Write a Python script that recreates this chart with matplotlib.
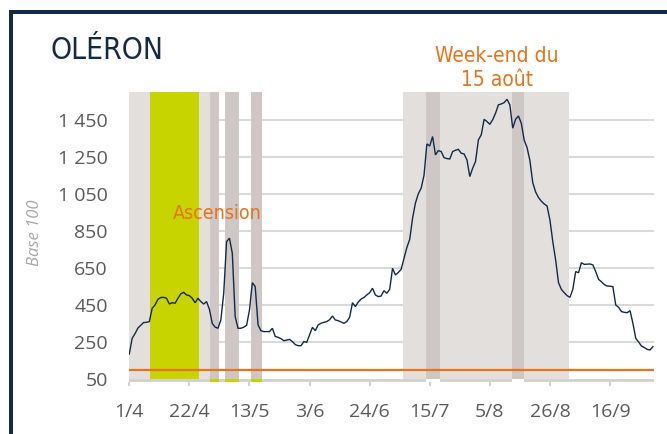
import os
import matplotlib
matplotlib.use("Agg")
import matplotlib.pyplot as plt
from matplotlib import font_manager as fm
from matplotlib.patches import Rectangle

# ---------------- data ----------------
days = list(range(184))  # 1 April .. 1 October, daily
values = [
    185, 270, 295, 325, 340, 355, 356, 360, 432, 450,
    480, 490, 491, 486, 455, 462, 459, 486, 510, 518,
    504, 500, 486, 462, 486, 468, 455, 468, 426, 350,
    330, 324, 369, 513, 792, 810, 729, 387, 324, 324,
    330, 340, 423, 570, 549, 342, 311, 306, 306, 306,
    324, 280, 275, 268, 257, 260, 264, 252, 236, 230,
    230, 252, 248, 288, 329, 311, 342, 351, 356, 360,
    370, 390, 369, 365, 358, 351, 360, 383, 462, 441,
    465, 482, 490, 504, 516, 540, 504, 495, 498, 527,
    513, 534, 648, 612, 625, 642, 700, 760, 804, 918,
    1000, 1050, 1080, 1150, 1319, 1308, 1359, 1260, 1283, 1278,
    1245, 1240, 1238, 1278, 1285, 1290, 1269, 1265, 1233, 1143,
    1188, 1224, 1341, 1368, 1452, 1440, 1425, 1450, 1485, 1530,
    1535, 1542, 1560, 1530, 1404, 1452, 1470, 1431, 1340, 1300,
    1230, 1110, 1060, 1030, 1010, 995, 984, 909, 792, 693,
    570, 534, 516, 500, 491, 534, 630, 624, 678, 669,
    670, 671, 666, 630, 588, 575, 560, 552, 551, 549,
    450, 437, 414, 410, 408, 419, 351, 270, 250, 228,
    220, 210, 207, 225,
]
xtick_days = [0, 21, 42, 63, 84, 105, 126, 147, 168]
xtick_labels = ["1/4", "22/4", "13/5", "3/6", "24/6", "15/7", "5/8", "26/8", "16/9"]
ytick_values = [50, 250, 450, 650, 850, 1050, 1250, 1450]
ytick_labels = ["50", "250", "450", "650", "850", "1 050", "1 250", "1 450"]
light_bands = [(0, 7.2), (24.4, 28.2), (95.5, 153.7)]
yellow_bands = [(7.2, 24.4)]
dark_bands_may = [(28.2, 31.2), (33.3, 38.3), (42.4, 46.4)]
dark_bands_summer = [(103.7, 108.6), (133.8, 137.9)]
base_level = 100
title = "OLÉRON"
ylabel = "Base 100"
note_ascension = "Ascension"
note_august = "Week-end du\n15 août"

# ---------------- colours ----------------
NAVY = "#14294a"
ORANGE = "#e8731a"
LIGHT = "#e2dfdd"
DARK = "#cec7c5"
YELLOW = "#c8d400"
GRID = "#dadada"
AXIS = "#d3d0ce"
TICKTXT = "#5a5a5a"

# ---------------- fonts ----------------
def find_condensed():
    tl = fm.fontManager.ttflist
    bad = ("Bold", "Italic", "Oblique", "Light", "Semi", "Extra", "Medium", "Black", "Thin")
    def ok(f):
        b = os.path.basename(f.fname)
        return f.style == "normal" and not any(x in b for x in bad)
    for f in tl:
        b = os.path.basename(f.fname)
        if f.name.startswith("Open Sans") and ("Condensed" in f.name or "Condensed" in b) and ok(f):
            return f.fname
    for f in tl:
        if f.name == "Liberation Sans Narrow" and ok(f):
            return f.fname
    for f in tl:
        b = os.path.basename(f.fname)
        if f.name == "DejaVu Sans" and "Condensed" in b and ok(f):
            return f.fname
    return None

cond_path = find_condensed()
def cond(size):
    if cond_path:
        return fm.FontProperties(fname=cond_path, size=size)
    return fm.FontProperties(family="Open Sans", stretch="condensed", size=size)

# ---------------- figure ----------------
fig = plt.figure(figsize=(6.67, 4.34), dpi=100)
W, H = 667.0, 434.0

# frame (top and left navy borders)
fig.add_artist(Rectangle((9 / W, 1 - 14 / H), (W - 9) / W, 4 / H,
                         transform=fig.transFigure, color=NAVY, lw=0))
fig.add_artist(Rectangle((9 / W, 0), 4 / W, 1 - 10 / H,
                         transform=fig.transFigure, color=NAVY, lw=0))

ax_left, ax_right = 129.3, 653.5
ax_top, ax_bot = 91.9, 381.8
ax = fig.add_axes([ax_left / W, 1 - ax_bot / H, (ax_right - ax_left) / W, (ax_bot - ax_top) / H])
ax.set_xlim(0, 183.2)
ax.set_ylim(35, 1600)
ytop = 1600

for s in ax.spines.values():
    s.set_visible(False)

# grid lines
for v in ytick_values[1:]:
    ax.axhline(v, color=GRID, lw=1.5, zorder=0.5)

# bands
def band(x0, x1, color, z=1):
    ax.add_patch(Rectangle((x0, 50), x1 - x0, ytop - 50, color=color, lw=0, zorder=z))

for a, b in light_bands:
    band(a, b, LIGHT)
for a, b in yellow_bands:
    band(a, b, YELLOW)
for a, b in dark_bands_may + dark_bands_summer:
    band(a, b, DARK, 1.2)

# axis line
ax.axhline(43, color=AXIS, lw=2.0, zorder=1.5)
for a, b in dark_bands_may:
    ax.add_patch(Rectangle((a, 35), b - a, 15, color=YELLOW, lw=0, zorder=1.8))
for a, b in dark_bands_summer:
    ax.add_patch(Rectangle((a, 35), b - a, 15, color="white", lw=0, zorder=1.8))

# base 100 line
ax.axhline(base_level, color=ORANGE, lw=1.6, zorder=3)

# data line
ax.plot(days, values, color=NAVY, lw=1.0, zorder=4, solid_joinstyle="miter")

# ticks
tickfont = fm.FontProperties(family=["Open Sans", "DejaVu Sans"], size=14)
ax.set_xticks(xtick_days)
ax.set_xticklabels(xtick_labels, fontproperties=tickfont, color=TICKTXT)
ax.set_yticks(ytick_values)
ax.set_yticklabels(ytick_labels, fontproperties=tickfont, color=TICKTXT)
ax.tick_params(axis="x", length=3, width=1.5, color=AXIS, pad=12)
ax.tick_params(axis="y", length=0, pad=15.5)

# y label
ax.text(-94.0 / 2.862, 838, ylabel, rotation=90, ha="center", va="center",
        fontfamily=["Open Sans", "DejaVu Sans"], fontstyle="italic", fontsize=12,
        color="#a6a6a6", clip_on=False)

# annotations
ax.text(30.7, 912, note_ascension, ha="center", va="baseline",
        fontproperties=cond(14), color=ORANGE, zorder=5)
ax.text(128.5, 1729, note_august, ha="center", va="center", linespacing=1.2,
        fontproperties=cond(15), color=ORANGE, clip_on=False, zorder=5)

# title
fig.text(50 / W, 1 - 59 / H, title, ha="left", va="baseline",
         fontproperties=cond(21.5), color=NAVY)

fig.savefig("out.png", dpi=100)
